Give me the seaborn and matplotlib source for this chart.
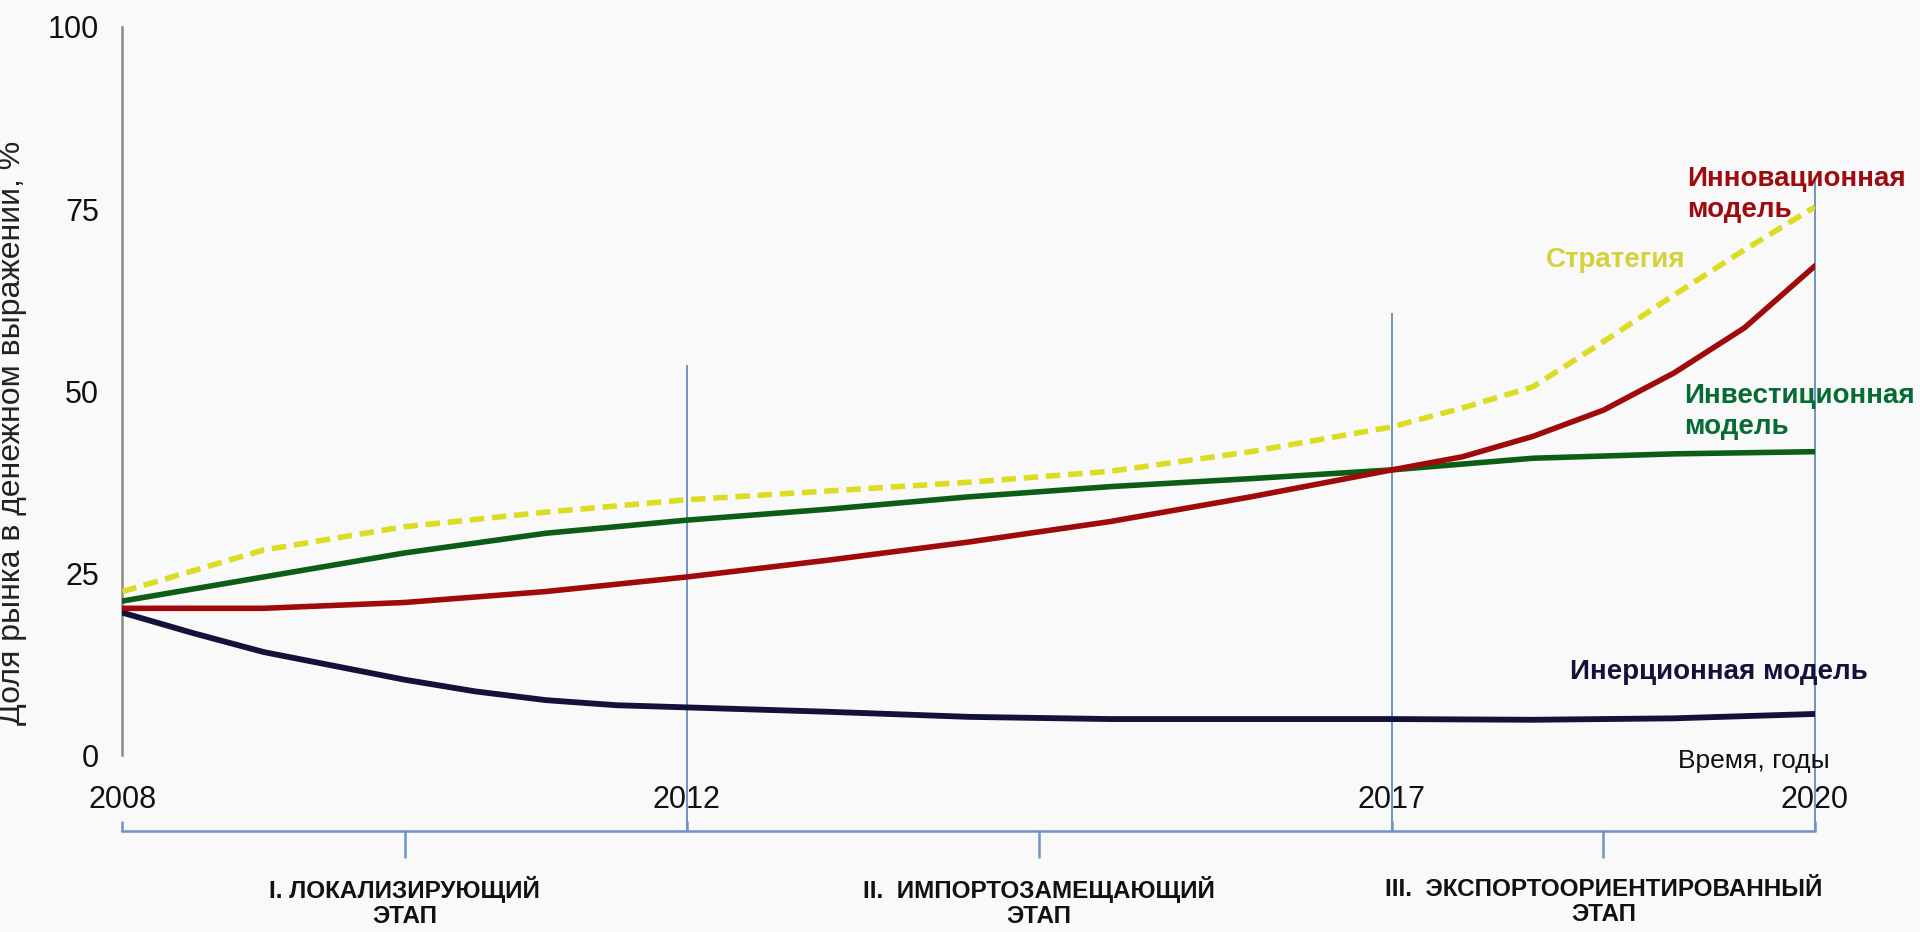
import matplotlib.pyplot as plt
import seaborn as sns

# данные (доля рынка, %)
inertial_years = [2008, 2008.5, 2009, 2009.5, 2010, 2010.5, 2011, 2011.5, 2012,
                  2013, 2014, 2015, 2016, 2017, 2018, 2019, 2020]
inertial = [19.6, 16.8, 14.2, 12.3, 10.4, 8.8, 7.6, 6.9, 6.6,
            6.0, 5.3, 5.0, 5.0, 5.0, 4.9, 5.1, 5.7]

late_years = [2008, 2009, 2010, 2011, 2012, 2013, 2014, 2015, 2016, 2017,
              2017.5, 2018, 2018.5, 2019, 2019.5, 2020]
innovative = [20.2, 20.2, 21.0, 22.5, 24.5, 26.8, 29.3, 32.1, 35.5, 39.2,
              41.0, 43.8, 47.4, 52.5, 58.7, 67.2]
strategy = [22.5, 28.2, 31.4, 33.4, 35.1, 36.3, 37.5, 39.0, 41.7, 45.1,
            47.7, 50.6, 56.8, 63.2, 69.4, 75.3]

investment_years = [2008, 2009, 2010, 2011, 2012, 2013, 2014, 2015, 2016, 2017, 2018, 2019, 2020]
investment = [21.2, 24.5, 27.8, 30.5, 32.3, 33.8, 35.5, 36.9, 38.0, 39.2, 40.8, 41.4, 41.7]

stage_years = [2012, 2017, 2020]
stage_tops = [53.6, 60.7, 79.3]
year_ticks = [2008, 2012, 2017, 2020]
y_ticks = [0, 25, 50, 75, 100]
stage_bounds = [2008, 2012, 2017, 2020]
stage_labels = ["I. ЛОКАЛИЗИРУЮЩИЙ\nЭТАП", "II.  ИМПОРТОЗАМЕЩАЮЩИЙ\nЭТАП",
                "III.  ЭКСПОРТООРИЕНТИРОВАННЫЙ\nЭТАП"]

sns.set_style("white")
plt.rcParams['font.family'] = ['Liberation Sans', 'DejaVu Sans']

BG = "#f9f9f9"
RED = "#a00a0a"
GREEN = "#0b5e14"
YELLOW = "#dcdc22"
NAVY = "#12123a"
BLUE = "#6f93c4"

fig = plt.figure(figsize=(19.2, 9.32), dpi=100, facecolor=BG)
ax = fig.add_axes([0.0638, 0.1894, 0.8815, 0.7817])
ax.set_facecolor(BG)

# вертикальные линии этапов (уходят ниже оси до скобки)
ax.vlines(stage_years, -10.4, stage_tops, colors=BLUE, linewidth=1.4, clip_on=False, zorder=1)

sns.lineplot(x=late_years, y=strategy, ax=ax, color=YELLOW, linewidth=4.0,
             linestyle=(0, (2.6, 1.4)), zorder=3)
sns.lineplot(x=investment_years, y=investment, ax=ax, color=GREEN, linewidth=4.0, zorder=3)
sns.lineplot(x=late_years, y=innovative, ax=ax, color=RED, linewidth=4.0, zorder=4)
sns.lineplot(x=inertial_years, y=inertial, ax=ax, color=NAVY, linewidth=4.2, zorder=3)

ax.set_xlim(2008, 2020)
ax.set_ylim(0, 100)
ax.set_yticks(y_ticks)
ax.set_xticks(year_ticks)
ax.tick_params(axis="both", length=0, labelsize=22, colors="#111111")
ax.tick_params(axis="y", pad=17)
ax.tick_params(axis="x", pad=21)
ax.set_ylabel("Доля рынка в денежном выражении, %", fontsize=23, color="#222222")
ax.yaxis.set_label_coords(-0.0564, 0.443)

for side in ["top", "right", "bottom"]:
    ax.spines[side].set_visible(False)
ax.spines["left"].set_color("#8a8a8a")
ax.spines["left"].set_linewidth(1.8)

# скобка под осью времени
ax.plot([stage_bounds[0], stage_bounds[-1]], [-10.4, -10.4], color=BLUE, linewidth=1.8, clip_on=False)
for b in stage_bounds:
    ax.plot([b, b], [-10.4, -9.1], color=BLUE, linewidth=1.8, clip_on=False)
for lo, hi, label in zip(stage_bounds[:-1], stage_bounds[1:], stage_labels):
    mid = (lo + hi) / 2
    ax.plot([mid, mid], [-10.4, -13.9], color=BLUE, linewidth=1.8, clip_on=False)
    ax.text(mid, -20.1, label, ha="center", va="center", fontsize=17.5, fontweight="bold",
            linespacing=1.12, color="#111111", clip_on=False)

# подписи моделей
ax.text(2019.09, 77.0, "Инновационная\nмодель", color="#9e0b0f", fontsize=20, fontweight="bold",
        ha="left", va="center", linespacing=1.25, clip_on=False)
ax.text(2018.09, 68.0, "Стратегия", color="#d2d23c", fontsize=20, fontweight="bold",
        ha="left", va="center", clip_on=False)
ax.text(2019.07, 47.2, "Инвестиционная\nмодель", color="#076b34", fontsize=20, fontweight="bold",
        ha="left", va="center", linespacing=1.25, clip_on=False)
ax.text(2018.26, 11.4, "Инерционная модель", color=NAVY, fontsize=20, fontweight="bold",
        ha="left", va="center", clip_on=False)
ax.text(2019.03, -0.7, "Время, годы", color="#111111", fontsize=19,
        ha="left", va="center", clip_on=False)

fig.savefig("out.png", dpi=100, facecolor=BG)
